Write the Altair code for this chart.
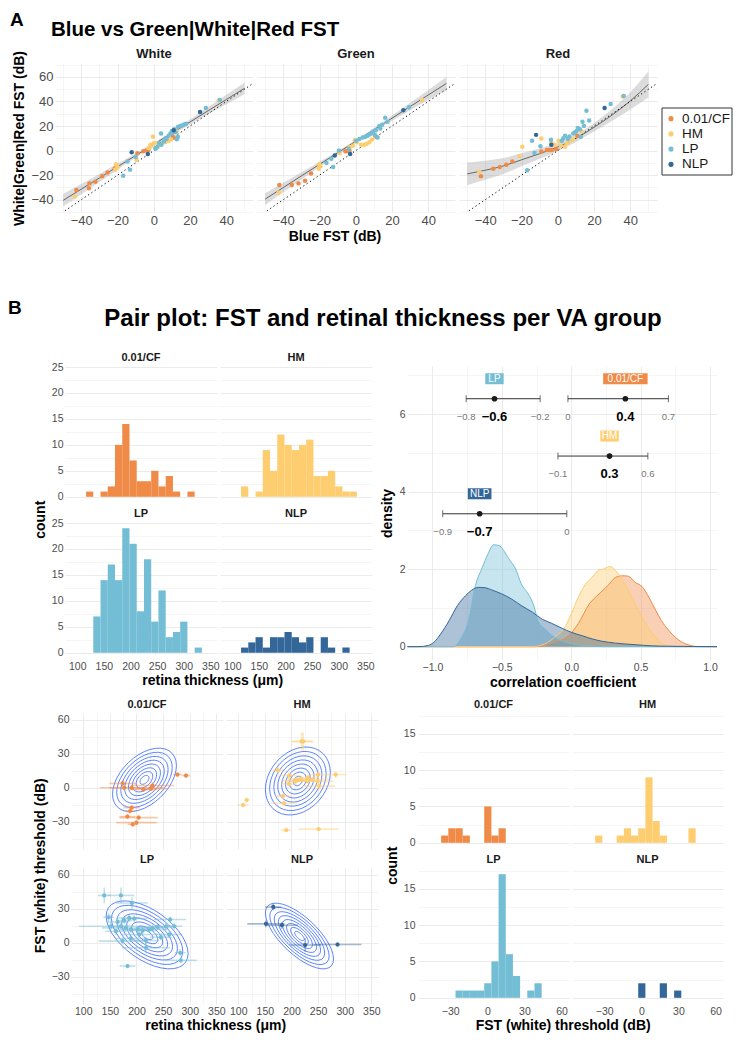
import math
import altair as alt
import pandas as pd

FONT = "Liberation Sans"
GROUPS = ["0.01/CF", "HM", "LP", "NLP"]
COLORS = ["#EF8A47", "#FDCD6F", "#73BDD5", "#336699"]
GRID = "#EBEBEB"
LABC = "#4D4D4D"
CSCALE = alt.Scale(domain=GROUPS, range=COLORS)

# ---------------- Panel A data ----------------
A_PANELS = ["White", "Green", "Red"]
white_grp = (["0.01/CF"] * 13 + ["HM"] * 18 + ["LP"] * 28 + ["NLP"] * 4)
white_x = [-42.7, -35.5, -35.8, -32.2, -28.5, -25.5, -21.5, -9.1, -5.8, -4, -3, 10.5, 11,
           -43.6, -20.9, -20, -21.3, -9.5, -0.5, -1.8, 0, 1.8, 4.5, 6.4, 8.2, 12.7, 35.8, -1.8, -3, 3, 9.5,
           -16.9, -13.1, -14.5, -10, 0.9, 4.2, 4, 6.4, 8.2, 9.1, 10, 11.3, 13.3, 14.5, 16.7, 17.8, 12.7, 13.3,
           28.7, 36.4, 2, 5.5, 7, 10.5, 12, 15.5, 1, 3,
           -12.2, -3.3, 25.5, 11]
white_y = [-32, -26.7, -30.7, -25.3, -20.8, -17.9, -14.5, -2.1, -0.5, 0, 0.5, 11.2, 10.5,
           -37.3, -11.2, -13.3, -15.5, -7.5, 11.2, 4.8, 5.9, 5.9, 5.9, 6.7, 8, 15.5, 40.8, 3.2, 2, 4.5, 9,
           -20.5, -15.5, -8.8, -5.3, 2.1, 4.8, 13.9, 10.1, 12, 13.9, 16, 17.3, 19.2, 20, 21.3, 21.9, 9.3, 11.2,
           34.7, 41.3, 3, 7.5, 9.5, 14.5, 15, 20.5, 1.5, 6,
           -1.3, -2.7, 31.5, 16.5]
green_grp = (["0.01/CF"] * 10 + ["HM"] * 15 + ["LP"] * 22 + ["NLP"] * 3)
green_x = [-42.2, -35.3, -31.6, -28, -24.7, -5.8, -4.8, -3.5, 10.7, 11.5,
           -42.5, -20.2, -19.5, -20.5, -8.9, -3.5, -1.6, 0.5, 2.9, 4.7, 7.5, 36.5, -0.5, 6, 9,
           -16.2, -13.5, -12.5, -9.3, -3.8, 0.2, 3.8, 6.5, 8.4, 9.6, 11.1, 12.9, 16.2, 17.5, 29.3, 10.5, 12,
           2, 5, 7.5, 13.5, 14.5,
           -11.6, -3.1, 26.2]
green_y = [-28, -28, -26.7, -24.5, -18.7, -0.5, -0.5, 0, 12, 11,
           -34.1, -11.2, -12.8, -14.7, -2.1, 2.7, 4, 6.7, 4.8, 4.8, 6.7, 41.3, 8.5, 5.5, 9,
           -10.1, -6.7, -13.3, 0, 1.3, 8, 10.7, 12, 13.9, 15.5, 16.5, 20, 26.7, 23.5, 35.2, 12.8, 10.7,
           9.5, 11, 13, 18, 21,
           -4, -2.7, 32.8]
red_grp = (["0.01/CF"] * 11 + ["HM"] * 14 + ["LP"] * 22 + ["NLP"] * 3)
red_x = [-42.4, -35.6, -32, -28.4, -25.1, -9.1, -6, -4.8, -3.3, -0.9, 10.7,
         -43.3, -21.1, -19.6, -9.1, -2, 0.4, 1.6, 4, 4.9, 6.7, 8.5, 13.1, 35.8, -3.5,
         -16.9, -14.2, -12.9, -9.6, -3.8, 2.2, 4, 6.4, 8.5, 10.4, 12.2, 13.6, 14.4, 15.8, 17.3, 12.7,
         29.1, 36.4, 3, 5.5, 9.5, 11,
         -12, -3.6, 25.8]
red_y = [-20.8, -14.7, -13.3, -11.5, -8.8, -0.8, 0.5, 0.5, 0.5, 1.3, 12,
         -17.3, -4.5, 3.2, 9.9, 4.8, 8, 4, 3.2, 5.9, 8, 9.3, 15.5, 44, 6.5,
         -16, 8, -1.9, 3.5, 8.8, 8, 12, 11.5, 13.9, 16, 17.3, 23.5, 20, 32.5, 24.5, 11.2,
         37.9, 44.5, 10, 9.5, 15, 18.5,
         12.8, 4.8, 34.7]

band_x = [-50, -40, -30, -20, -10, 0, 10, 20, 30, 40, 50]
white_fit = [-40.5, -31.4, -22.3, -13.1, -4.0, 5.1, 14.2, 23.3, 32.5, 41.6, 50.7]
white_lo = [-45.6, -35.6, -25.6, -15.5, -5.7, 3.8, 12.8, 21.3, 29.6, 37.8, 45.9]
white_hi = [-35.4, -27.2, -19.0, -10.7, -2.3, 6.4, 15.6, 25.3, 35.4, 45.4, 55.5]
green_fit = [-39.5, -30.1, -20.6, -11.2, -1.8, 7.6, 17.0, 26.4, 35.9, 45.3, 54.7]
green_lo = [-44.3, -34.0, -23.6, -13.4, -3.3, 6.4, 15.6, 24.3, 32.9, 41.2, 49.4]
green_hi = [-34.7, -26.2, -17.6, -9.0, -0.3, 8.8, 18.4, 28.5, 38.9, 49.4, 60.0]
red_fit = [-19.0, -16.0, -12.5, -7.5, -2.5, 3.0, 10.0, 19.0, 29.0, 40.5, 54.0]
red_lo = [-28.3, -23.8, -19.0, -12.8, -6.7, -0.3, 7.0, 15.5, 24.2, 33.5, 43.5]
red_hi = [-9.7, -8.2, -6.0, -2.2, 1.7, 6.3, 13.0, 22.5, 33.8, 47.5, 64.5]
ident_x = [-60, 60]
ident_y = [-60, 60]

# ---------------- Panel B data ----------------
RET_ANCHOR, RET_STEP = 102, 13.6
ret_cf = [1, 1, 0, 1, 2, 10, 14, 7, 3, 3, 5, 2, 4, 1, 0, 1, 0]
ret_hm = [2, 2, 0, 1, 9, 5, 12, 10, 9, 10, 11, 4, 4, 5, 2, 1, 1]
ret_lp = [0, 0, 7, 14, 17, 14, 24, 21, 8, 18, 6, 12, 3, 4, 6, 0, 1]
ret_nlp = [0, 1, 2, 3, 1, 3, 3, 4, 3, 2, 3, 0, 3, 1, 0, 1, 0]

dens_cf_x = [-1.18, -0.26, -0.12, -0.02, 0.05, 0.13, 0.20, 0.27, 0.32, 0.37, 0.41, 0.46, 0.51, 0.56, 0.61, 0.65,
             0.70, 0.75, 0.80, 0.85, 0.92, 1.05]
dens_cf_y = [0, 0, 0.11, 0.28, 0.59, 1.10, 1.36, 1.60, 1.79, 1.83, 1.82, 1.66, 1.55, 1.27, 0.93, 0.67,
             0.43, 0.24, 0.11, 0.04, 0, 0]
dens_hm_x = [-1.18, -0.28, -0.19, -0.12, -0.04, 0.0, 0.05, 0.10, 0.15, 0.20, 0.23, 0.28, 0.32, 0.37, 0.41, 0.46,
             0.51, 0.56, 0.61, 0.65, 0.70, 0.75, 1.05]
dens_hm_y = [0, 0, 0.07, 0.24, 0.54, 0.84, 1.27, 1.60, 1.79, 1.98, 2.0, 2.07, 1.96, 1.71, 1.45, 1.10,
             0.76, 0.46, 0.24, 0.09, 0.03, 0, 0]
dens_lp_x = [-1.18, -0.85, -0.79, -0.74, -0.69, -0.64, -0.60, -0.56, -0.52, -0.49, -0.45, -0.40, -0.36, -0.31,
             -0.27, -0.24, -0.19, -0.12, -0.02, 0.10, 0.22, 1.05]
dens_lp_y = [0, 0, 0.24, 0.67, 1.58, 2.05, 2.39, 2.63, 2.61, 2.50, 2.27, 2.0, 1.62, 1.36,
             1.06, 0.67, 0.46, 0.24, 0.09, 0.03, 0, 0]
dens_nlp_x = [-1.18, -1.10, -1.03, -0.99, -0.94, -0.88, -0.82, -0.76, -0.72, -0.67, -0.62, -0.57, -0.50, -0.43,
              -0.36, -0.28, -0.21, -0.14, -0.07, 0.0, 0.08, 0.15, 0.22, 0.32, 0.46, 0.58, 0.70, 1.05]
dens_nlp_y = [0, 0, 0.03, 0.11, 0.33, 0.67, 1.06, 1.32, 1.45, 1.53, 1.52, 1.46, 1.36, 1.23,
              1.06, 0.89, 0.71, 0.60, 0.48, 0.37, 0.28, 0.20, 0.14, 0.09, 0.05, 0.02, 0.01, 0]

corr_grp = ["LP", "0.01/CF", "HM", "NLP"]
corr_row = [6.4, 6.4, 4.92, 3.43]
corr_est = [-0.553, 0.39, 0.276, -0.66]
corr_lo = [-0.757, -0.024, -0.096, -0.926]
corr_hi = [-0.224, 0.70, 0.552, -0.032]
corr_est_lab = ["\u22120.6", "0.4", "0.3", "\u22120.7"]
corr_lo_lab = ["\u22120.8", "0", "\u22120.1", "\u22120.9"]
corr_hi_lab = ["\u22120.2", "0.7", "0.6", "0"]

sc_grp = ["0.01/CF"] * 14 + ["HM"] * 21 + ["LP"] * 31 + ["NLP"] * 5
sc_x = [174, 177, 191, 213, 227, 230, 277, 293, 191, 188, 183, 204, 200, 193,
        219, 222, 174, 196, 195, 207, 218, 230, 240, 250, 249, 252, 283, 184, 186, 116, 109, 190, 251, 211, 231,
        139.5, 170.8, 191.4, 147.6, 152, 164.5, 170.7, 177, 186.3, 195.7, 180.1, 189.5, 202, 211.4, 223.8, 230.2,
        239.6, 255.2, 263.3, 270.8, 261.4, 245.8, 217.6, 189.5, 173.9, 217.6, 282, 283.3, 183.2, 161.4, 205.1,
        165.7, 152, 182, 225.7, 286.5]
sc_y = [3.8, 0, 0, -1.5, -0.9, 2, 11.7, 10.8, -17.5, -20.5, -25.4, -26.3, -30.7, -32.2,
        40.9, 40.9, 15.5, 10.8, 3.5, 5.8, 7.9, 5.8, 7.3, 11.7, 5.8, 1.5, 11.7, -7.3, -13.7, -10.8, -15.2, -37.4,
        -36.5, 6.7, 9,
        41.8, 41.8, 35.1, 22.5, 14.6, 18.4, 14.6, 19.6, 21.9, 21.3, 13.2, 11.7, 11.7, 10.8, 11.7, 13.2,
        14, 14.6, 20.5, 14.6, 7.3, 5, 2, 3.8, 1.5, -4.4, -8.8, -15.5, -20.5, 10.2, 7.3,
        31.6, 16.7, 15.5, -2, -1.5]
sc_xerr = [25, 28, 60, 25, 30, 40, 8, 8, 15, 10, 15, 36, 38, 10,
           20, 20, 10, 15, 15, 20, 25, 25, 30, 15, 30, 30, 20, 15, 25, 5, 10, 10, 38, 30, 20,
           12, 25, 30, 10, 60, 20, 15, 15, 20, 25, 45, 20, 30, 25, 35, 30,
           25, 20, 30, 15, 25, 20, 25, 30, 45, 45, 10, 30, 15, 20, 35,
           15, 35, 30, 30, 45]
sc_yerr = [3, 2, 2, 2, 2, 3, 2, 2, 2, 2, 2, 2, 2, 2,
           8, 8, 3, 3, 2, 3, 3, 2, 2, 3, 2, 3, 3, 2, 2, 2, 2, 1, 1, 2, 3,
           7, 7, 5, 4, 3, 4, 3, 3, 3, 3, 3, 3, 3, 3, 3, 3,
           3, 3, 3, 3, 3, 3, 3, 3, 3, 5, 3, 2, 2, 3, 3,
           3, 3, 3, 6, 2]

# 2-D density contour outlines, read per group: centre, outer half-extent in x and y, tilt
cont_cx = [215, 212, 220, 215]
cont_cy = [7, 6, 7, 6]
cont_hx = [60, 61, 77, 64]
cont_hy = [28, 30, 30, 29]
cont_rho = [0.45, 0.25, -0.55, -0.7]
cont_levels = [0.14, 0.26, 0.38, 0.5, 0.62, 0.74, 0.87, 1.0]

FST_STEP = 5.8
fst_m = list(range(-7, 8))
fst_cf = [0, 1, 2, 2, 1, 0, 0, 5, 1, 2, 0, 0, 0, 0, 0]
fst_hm = [1, 1, 0, 0, 1, 2, 1, 2, 9, 3, 1, 0, 0, 0, 2]
fst_lp = [0, 0, 0, 1, 1, 1, 1, 2, 5, 17, 6, 3, 0, 1, 2]
fst_nlp = [0, 0, 0, 0, 0, 0, 0, 2, 0, 0, 2, 0, 1, 0, 0]


# ---------------- helpers ----------------
def ax(values, test, title=None, fmt=None, lsize=10.5, tsize=14, lpad=2, tpad=4):
    d = dict(values=values, ticks=False, domain=False, labelFlush=False, labelOverlap=False,
             labelExpr="(" + test + ") ? datum.label : ''", labelFontSize=lsize, labelColor=LABC,
             labelPadding=lpad, gridColor=GRID,
             gridWidth={"condition": {"test": test, "value": 1.0}, "value": 0.5},
             titleFontSize=tsize, titleFontWeight="bold", titleColor="black", titlePadding=tpad,
             title=title)
    if fmt:
        d["format"] = fmt
    return alt.Axis(**d)


def spacer(w, h):
    return alt.Chart(pd.DataFrame({"s": [0]})).mark_point(opacity=0, size=1).encode(
        x=alt.value(0), y=alt.value(0)).properties(width=w, height=h)


def hdr(label_size=11):
    return alt.Header(title=None, labelFontSize=label_size, labelFontWeight="bold",
                      labelColor="#1A1A1A", labelPadding=3)


def btitle(text, offset=2):
    return alt.TitleParams(text, orient="bottom", anchor="middle", fontSize=14, fontWeight="bold",
                           color="black", offset=offset)


def ltitle(text, offset=3):
    return alt.TitleParams(text, orient="left", anchor="middle", fontSize=14, fontWeight="bold",
                           color="black", offset=offset)


# ---------------- Panel A ----------------
rows = []
for pname, gs, xs, ys, fit, lo, hi in [
    ("White", white_grp, white_x, white_y, white_fit, white_lo, white_hi),
    ("Green", green_grp, green_x, green_y, green_fit, green_lo, green_hi),
    ("Red", red_grp, red_x, red_y, red_fit, red_lo, red_hi)]:
    for bx, f, l, h in zip(band_x, fit, lo, hi):
        rows.append(dict(panel=pname, kind="band", x=bx, fit=f, lo=l, hi=h))
    for ix, iy in zip(ident_x, ident_y):
        rows.append(dict(panel=pname, kind="id", x=ix, y=iy))
    for g, x, y in zip(gs, xs, ys):
        rows.append(dict(panel=pname, kind="pt", x=x, y=y, grp=g))
dfA = pd.DataFrame(rows)

T20 = "abs(datum.value % 20) < 0.001"
xsA = alt.Scale(domain=[-54.5, 54.7], nice=False, zero=False)
xaxA = ax(list(range(-50, 51, 10)), T20, lsize=13)
xA = alt.X("x:Q", scale=xsA, axis=xaxA)
ysA = alt.Scale(domain=[-50, 70.5], nice=False, zero=False)
yaxA = ax(list(range(-50, 71, 10)), T20, title="White|Green|Red FST (dB)", lsize=13, tsize=14, tpad=4)

bandL = alt.Chart().transform_filter("datum.kind == 'band'").mark_area(
    color="#9A9A9A", opacity=0.35, clip=True, interpolate="monotone").encode(
    x=xA, y=alt.Y("lo:Q", scale=ysA, axis=yaxA), y2="hi:Q")
fitL = alt.Chart().transform_filter("datum.kind == 'band'").mark_line(
    color="#666666", strokeWidth=1, clip=True, interpolate="monotone").encode(
    x=xA, y=alt.Y("fit:Q", scale=ysA, axis=yaxA))
idL = alt.Chart().transform_filter("datum.kind == 'id'").mark_line(
    color="#000000", strokeWidth=1, strokeDash=[1.2, 2.8], clip=True).encode(
    x=xA, y=alt.Y("y:Q", scale=ysA, axis=yaxA))
ptL = alt.Chart().transform_filter("datum.kind == 'pt'").mark_circle(
    size=20, opacity=1, clip=True).encode(
    x=xA, y=alt.Y("y:Q", scale=ysA, axis=yaxA),
    color=alt.Color("grp:N", scale=CSCALE, legend=None))
chartA = alt.layer(bandL, fitL, idL, ptL, data=dfA).properties(width=198, height=148).facet(
    column=alt.Column("panel:N", sort=A_PANELS, header=hdr(13)), spacing=4).properties(
    title=btitle("Blue FST (dB)", offset=3))

dfLeg = pd.DataFrame({"grp": GROUPS})
legY = alt.Y("grp:N", sort=GROUPS, axis=None, scale=alt.Scale(padding=0.7))
legend = alt.layer(
    alt.Chart(pd.DataFrame({"b": [0]})).mark_rect(fillOpacity=0, stroke="#333333", strokeWidth=1).encode(
        x=alt.value(0), x2=alt.value(70), y=alt.value(0), y2=alt.value(67)),
    alt.Chart(dfLeg).mark_circle(size=26, opacity=1).encode(
        x=alt.value(9), y=legY, color=alt.Color("grp:N", scale=CSCALE, legend=None)),
    alt.Chart(dfLeg).mark_text(align="left", fontSize=13.5, color="#1A1A1A").encode(
        x=alt.value(20), y=legY, text="grp:N"),
).properties(width=70, height=67)
rowA = alt.concat(chartA, alt.vconcat(spacer(2, 43), legend, spacing=0),
                  columns=2, spacing=4, align="none")

# ---------------- B: retina histograms ----------------
rows = []
for g, counts in zip(GROUPS, [ret_cf, ret_hm, ret_lp, ret_nlp]):
    for k, c in enumerate(counts):
        if c > 0:
            rows.append(dict(grp=g, v=RET_ANCHOR + RET_STEP * (k + 0.5), n=c))
dfRet = pd.DataFrame(rows)

T50 = "abs(datum.value % 50) < 0.001"
T5 = "abs(datum.value % 5) < 0.001"
T30 = "abs(datum.value % 30) < 0.001"
RET_VALUES = list(range(100, 351, 25))
retTL = alt.Chart(dfRet).mark_bar(binSpacing=0, clip=True).encode(
    x=alt.X("v:Q", bin=alt.Bin(step=RET_STEP, anchor=RET_ANCHOR),
            scale=alt.Scale(domain=[77, 362.5], nice=False, zero=False), axis=ax(RET_VALUES, T50)),
    y=alt.Y("sum(n):Q", scale=alt.Scale(domain=[-1.2, 25.2], nice=False, zero=False),
            axis=ax([0, 2.5, 5, 7.5, 10, 12.5, 15, 17.5, 20, 22.5, 25], T5)),
    color=alt.Color("grp:N", scale=CSCALE, legend=None)
).properties(width=152, height=137).facet(
    facet=alt.Facet("grp:N", sort=GROUPS, header=hdr(11)), columns=2,
    spacing={"row": 5, "column": 3}).properties(title=btitle("retina thickness (\u03bcm)"))
TLw = alt.hconcat(spacer(1, 10), retTL, spacing=-5).properties(title=ltitle("count"))

# ---------------- B: correlation density ----------------
rows = []
for g, xs, ys in zip(GROUPS, [dens_cf_x, dens_hm_x, dens_lp_x, dens_nlp_x],
                     [dens_cf_y, dens_hm_y, dens_lp_y, dens_nlp_y]):
    for x, y in zip(xs, ys):
        rows.append(dict(grp=g, r=x, d=y))
dfD = pd.DataFrame(rows)


def box_path(label):
    half = (8 + 5.2 * len(label)) / 11.0
    return "M%.2f,-1H%.2fV1H%.2fZ" % (-half, half, -half)


dfC = pd.DataFrame(dict(grp=corr_grp, row=corr_row, est=corr_est, lo=corr_lo, hi=corr_hi,
                        est_lab=corr_est_lab, lo_lab=corr_lo_lab, hi_lab=corr_hi_lab,
                        box=[box_path(g) for g in corr_grp]))

TD = "abs(round(datum.value * 100)) % 50 == 0"
xD = alt.Scale(domain=[-1.176, 1.05], nice=False, zero=False)
yD = alt.Scale(domain=[-0.345, 7.245], nice=False, zero=False)
xaxD = ax([-1, -0.75, -0.5, -0.25, 0, 0.25, 0.5, 0.75, 1], TD, title="correlation coefficient", fmt=".1f",
          tpad=3)
yaxD = ax([0, 1, 2, 3, 4, 5, 6, 7], "datum.value % 2 == 0", title="density", tpad=5, lpad=3)


def dx(f):
    return alt.X(f, scale=xD, axis=xaxD)


def dy(f, **kw):
    return alt.Y(f, scale=yD, axis=yaxD, **kw)


d_area = alt.Chart(dfD).mark_area(opacity=0.4, interpolate="monotone").encode(
    x=dx("r:Q"), y=dy("d:Q", stack=None), color=alt.Color("grp:N", scale=CSCALE, legend=None))
d_line = alt.Chart(dfD).mark_line(strokeWidth=1, interpolate="monotone").encode(
    x=dx("r:Q"), y=dy("d:Q"), color=alt.Color("grp:N", scale=CSCALE, legend=None))
c_rule = alt.Chart(dfC).mark_rule(color="#333333", strokeWidth=1).encode(
    x=dx("lo:Q"), x2="hi:Q", y=dy("row:Q"))
c_cap1 = alt.Chart(dfC).mark_tick(color="#333333", orient="vertical", size=7, thickness=1).encode(
    x=dx("lo:Q"), y=dy("row:Q"))
c_cap2 = alt.Chart(dfC).mark_tick(color="#333333", orient="vertical", size=7, thickness=1).encode(
    x=dx("hi:Q"), y=dy("row:Q"))
c_pt = alt.Chart(dfC).mark_circle(color="#1A1A1A", size=32, opacity=1).encode(
    x=dx("est:Q"), y=dy("row:Q"))
c_box = alt.Chart(dfC).mark_point(filled=True, opacity=1, size=121, strokeWidth=0, yOffset=-20).encode(
    x=dx("est:Q"), y=dy("row:Q"), shape=alt.Shape("box:N", scale=None),
    color=alt.Color("grp:N", scale=CSCALE, legend=None))
c_boxt = alt.Chart(dfC).mark_text(color="white", fontSize=10, yOffset=-20).encode(
    x=dx("est:Q"), y=dy("row:Q"), text="grp:N")
c_est = alt.Chart(dfC).mark_text(color="black", fontSize=13, fontWeight="bold", yOffset=18).encode(
    x=dx("est:Q"), y=dy("row:Q"), text="est_lab:N")
c_lo = alt.Chart(dfC).mark_text(color="#777777", fontSize=9.5, yOffset=18).encode(
    x=dx("lo:Q"), y=dy("row:Q"), text="lo_lab:N")
c_hi = alt.Chart(dfC).mark_text(color="#777777", fontSize=9.5, yOffset=18).encode(
    x=dx("hi:Q"), y=dy("row:Q"), text="hi_lab:N")
densTR = alt.layer(d_area, d_line, c_rule, c_cap1, c_cap2, c_pt, c_box, c_boxt, c_est, c_lo, c_hi
                   ).properties(width=309, height=294)

# ---------------- B: scatter + contours ----------------
rows = []
for gi, g in enumerate(GROUPS):
    sr = math.sqrt(1 - cont_rho[gi] ** 2)
    for li, lev in enumerate(cont_levels):
        for s in range(0, 37):
            t = math.radians(s * 10)
            rows.append(dict(grp=g, kind="cont", lev=li, ord=s,
                             x=cont_cx[gi] + lev * cont_hx[gi] * math.cos(t),
                             y=cont_cy[gi] + lev * cont_hy[gi] * (cont_rho[gi] * math.cos(t) + sr * math.sin(t))))
for g, x, y, xe, ye in zip(sc_grp, sc_x, sc_y, sc_xerr, sc_yerr):
    rows.append(dict(grp=g, kind="pt", x=x, y=y, xlo=x - xe, xhi=x + xe, ylo=y - ye, yhi=y + ye))
dfS = pd.DataFrame(rows)

xsS = alt.Scale(domain=[77, 362.5], nice=False, zero=False)
ysS = alt.Scale(domain=[-54, 66], nice=False, zero=False)
xaxS = ax(RET_VALUES, T50)
yaxS = ax([-45, -30, -15, 0, 15, 30, 45, 60], T30)


def sx(f):
    return alt.X(f, scale=xsS, axis=xaxS)


def sy(f):
    return alt.Y(f, scale=ysS, axis=yaxS)


s_cont = alt.Chart().transform_filter("datum.kind == 'cont'").mark_line(
    color="#3366FF", strokeWidth=0.8, clip=True).encode(x=sx("x:Q"), y=sy("y:Q"), detail="lev:N", order="ord:Q")
s_h = alt.Chart().transform_filter("datum.kind == 'pt'").mark_rule(
    strokeWidth=1.6, opacity=0.45, clip=True).encode(
    x=sx("xlo:Q"), x2="xhi:Q", y=sy("y:Q"), color=alt.Color("grp:N", scale=CSCALE, legend=None))
s_v = alt.Chart().transform_filter("datum.kind == 'pt'").mark_rule(
    strokeWidth=1.6, opacity=0.45, clip=True).encode(
    x=sx("x:Q"), y=sy("ylo:Q"), y2="yhi:Q", color=alt.Color("grp:N", scale=CSCALE, legend=None))
s_pt = alt.Chart().transform_filter("datum.kind == 'pt'").mark_circle(
    size=18, opacity=1, clip=True).encode(x=sx("x:Q"), y=sy("y:Q"),
                                           color=alt.Color("grp:N", scale=CSCALE, legend=None))
scBL = alt.layer(s_cont, s_h, s_v, s_pt, data=dfS).properties(width=152, height=136).facet(
    facet=alt.Facet("grp:N", sort=GROUPS, header=hdr(11)), columns=2,
    spacing={"row": 5, "column": 3}).properties(title=btitle("retina thickness (\u03bcm)"))
BLw = alt.hconcat(spacer(1, 10), scBL, spacing=-5).properties(title=ltitle("FST (white) threshold (dB)"))

# ---------------- B: FST histograms ----------------
rows = []
for g, counts in zip(GROUPS, [fst_cf, fst_hm, fst_lp, fst_nlp]):
    for m, c in zip(fst_m, counts):
        if c > 0:
            rows.append(dict(grp=g, v=FST_STEP * m, n=c))
dfF = pd.DataFrame(rows)
fstBR = alt.Chart(dfF).mark_bar(binSpacing=0, clip=True).encode(
    x=alt.X("v:Q", bin=alt.Bin(step=FST_STEP, anchor=-FST_STEP / 2),
            scale=alt.Scale(domain=[-56, 66], nice=False, zero=False),
            axis=ax([-45, -30, -15, 0, 15, 30, 45, 60], T30)),
    y=alt.Y("sum(n):Q", scale=alt.Scale(domain=[-0.85, 17.85], nice=False, zero=False),
            axis=ax([0, 2.5, 5, 7.5, 10, 12.5, 15, 17.5], T5, lpad=3)),
    color=alt.Color("grp:N", scale=CSCALE, legend=None)
).properties(width=151, height=136).facet(
    facet=alt.Facet("grp:N", sort=GROUPS, header=hdr(11)), columns=2,
    spacing={"row": 5, "column": 3}).properties(title=btitle("FST (white) threshold (dB)"))
BRw = alt.hconcat(fstBR).properties(title=ltitle("count"))

# ---------------- headers ----------------
hA = alt.layer(
    alt.Chart(pd.DataFrame({"t": ["A"]})).mark_text(align="left", baseline="alphabetic", fontSize=19,
                                                     fontWeight="bold", color="black").encode(
        text="t:N", x=alt.value(-45), y=alt.value(18)),
    alt.Chart(pd.DataFrame({"t": ["Blue vs Green|White|Red FST"]})).mark_text(
        align="left", baseline="alphabetic", fontSize=20.5, fontWeight="bold", color="black").encode(
        text="t:N", x=alt.value(-4), y=alt.value(28)),
).properties(width=2, height=40)

hB = alt.layer(
    alt.Chart(pd.DataFrame({"t": ["B"]})).mark_text(align="left", baseline="alphabetic", fontSize=19,
                                                     fontWeight="bold", color="black").encode(
        text="t:N", x=alt.value(-47), y=alt.value(70)),
    alt.Chart(pd.DataFrame({"t": ["Pair plot: FST and retinal thickness per VA group"]})).mark_text(
        align="center", baseline="alphabetic", fontSize=24, fontWeight="bold", color="black").encode(
        text="t:N", x=alt.value(328), y=alt.value(82)),
).properties(width=2, height=108)

rowB1 = alt.concat(TLw, densTR, columns=2, spacing=5, align="none")
rowB2 = alt.concat(BLw, BRw, columns=2, spacing=5, align="none")

chart = alt.concat(hA, rowA, hB, rowB1, spacer(2, 8), rowB2, columns=1, spacing=0, align="none").properties(
    padding={"left": 0, "top": 0, "right": 0, "bottom": 0}
).resolve_scale(color="independent").configure(font=FONT).configure_view(stroke=None).configure_title(
    font=FONT).configure_header(labelFont=FONT).configure_text(font=FONT)

chart.save("out.html", embed_options={"renderer": "svg", "actions": False})
